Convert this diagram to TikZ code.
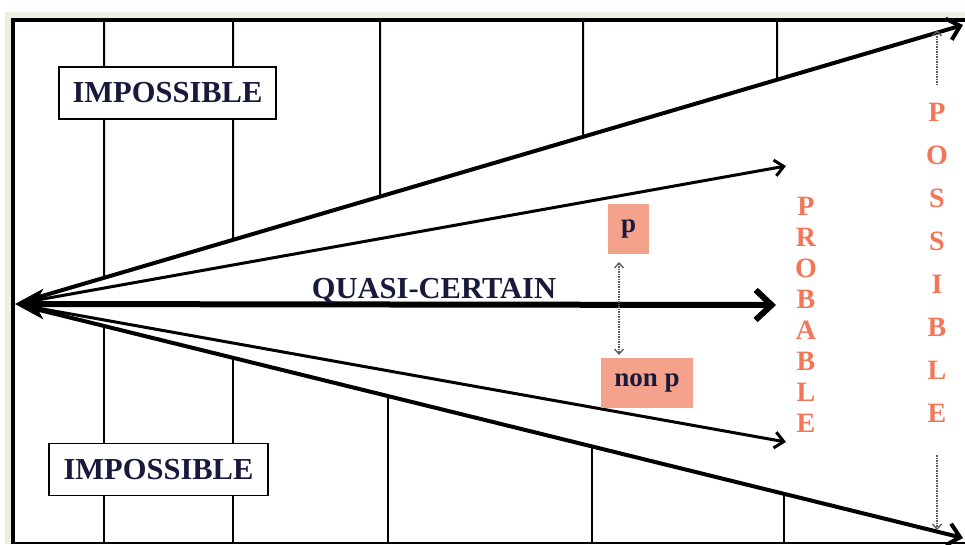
\documentclass[tikz,border=0pt]{standalone}
\usepackage{fontspec}
\setmainfont{Liberation Serif}
\usetikzlibrary{arrows.meta}
\definecolor{navy}{RGB}{25,25,60}
\definecolor{salmon}{RGB}{244,162,140}
\definecolor{coral}{RGB}{242,118,88}
\definecolor{margin}{RGB}{236,240,224}
\tikzset{
  impbox/.style={draw,line width=1.5pt,fill=white,minimum width=217pt,minimum height=52pt,
    inner sep=0pt,font=\bfseries\fontsize{30.5}{36}\selectfont,text=navy},
  pbox/.style={fill=salmon,minimum height=50pt,inner sep=0pt,
    font=\bfseries\fontsize{27}{32}\selectfont,text=navy},
  letter/.style={text=coral,font=\bfseries\fontsize{28}{32}\selectfont,inner sep=0pt},
  tick/.style={line width=2pt},
  bigarr/.style={line width=4pt,shorten <=12pt,-{Straight Barb[length=12pt,width=22pt]}},
  smallarr/.style={line width=3pt,shorten <=12pt,-{Straight Barb[length=9pt,width=16pt]}},
  dotarr/.style={dash pattern=on 1.5pt off 1pt,line width=1.3pt,black!65,-{Straight Barb[length=5pt,width=9pt]}}
}
\begin{document}
\begin{tikzpicture}[x=1pt,y=-1pt]
  \useasboundingbox (0,0) rectangle (965,544);
  \fill[margin] (5,12) rectangle (965,544);
  \fill[white] (13,20) rectangle (965,544);
  \coordinate (O) at (15,304);
  \coordinate (TR) at (963,25);
  \coordinate (UP) at (786,166);
  \coordinate (MID) at (776,305);
  \coordinate (LOW) at (786,442);
  \coordinate (BR) at (963,538);
  \foreach \x in {104,233,380,583,777}
    \draw[tick] (\x,20) -- (intersection cs: first line={(O)--(TR)}, second line={(\x,0)--(\x,100)});
  \foreach \x in {104,233,388,592,784}
    \draw[tick] (\x,544) -- (intersection cs: first line={(O)--(BR)}, second line={(\x,0)--(\x,100)});
  \draw[line width=4pt] (13,544) -- (13,20) -- (965,20);
  \draw[line width=2pt] (13,543) -- (965,543);
  \node[impbox] (imptop) at (167.5,93) {IMPOSSIBLE};
  \node[impbox,minimum width=219pt] (impbot) at (158.5,469.5) {IMPOSSIBLE};
  \draw[bigarr] (O) -- (TR);
  \draw[smallarr] (O) -- (UP);
  \draw[smallarr] (O) -- (LOW);
  \draw[bigarr] (O) -- (BR);
  \draw[line width=6pt,{Stealth[length=28pt,width=30pt,inset=8pt]}-{Straight Barb[length=16pt,width=30pt]}] (O) -- (MID);
  \node[anchor=base,inner sep=0pt,text=navy,font=\bfseries\fontsize{30.5}{36}\selectfont] (qc) at (434,298) {QUASI-CERTAIN};
  \node[pbox,minimum width=41pt] (p) at (628.5,229) {p};
  \node[pbox,minimum width=92pt] (nonp) at (647,383) {non p};
  \coordinate (pa) at (619,262);
  \coordinate (pb) at (619,355);
  \draw[dotarr,{Straight Barb[length=5pt,width=9pt]}-{Straight Barb[length=5pt,width=9pt]}] (pa) -- (pb);
  \foreach \l [count=\i from 0] in {P,R,O,B,A,B,L,E}
    \node[letter] (prob-\i) at (806,{206+31*\i}) {\l};
  \foreach \l [count=\i from 0] in {P,O,S,S,I,B,L,E}
    \node[letter] (poss-\i) at (937,{112+43*\i}) {\l};
  \coordinate (su) at (937,85);
  \coordinate (st) at (937,30);
  \coordinate (sd) at (937,455);
  \coordinate (sb) at (937,530);
  \draw[dotarr] (su) -- (st);
  \draw[dotarr] (sd) -- (sb);
\end{tikzpicture}
\end{document}
